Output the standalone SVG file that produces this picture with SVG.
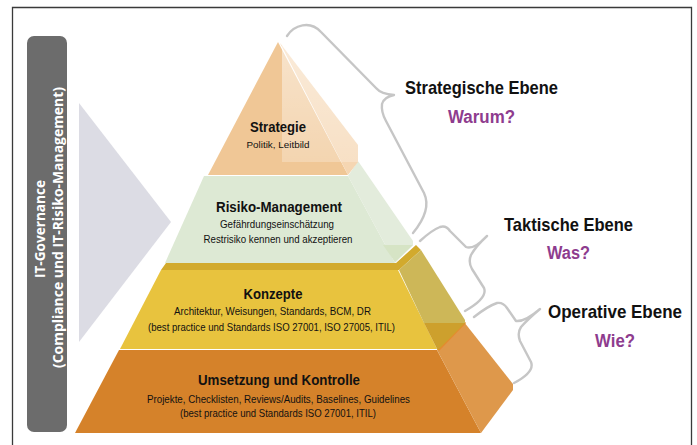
<svg xmlns="http://www.w3.org/2000/svg" width="697" height="445" viewBox="0 0 697 445">
  <defs>
    <linearGradient id="fade" x1="0" y1="0" x2="0" y2="1">
      <stop offset="0" stop-color="#ffffff" stop-opacity="0.5"/>
      <stop offset="1" stop-color="#ffffff" stop-opacity="0.25"/>
    </linearGradient>
  </defs>
  <style>
    .t { font-family: "Liberation Sans", Arial, sans-serif; text-anchor: middle; fill: #111; }
    .b { font-weight: bold; }
    .head { font-size: 15px; }
    .sub { font-size: 10.5px; }
    .level { font-family: "Liberation Sans", Arial, sans-serif; font-weight: bold; font-size: 19px; text-anchor: middle; fill: #111; }
    .ask { font-family: "Liberation Sans", Arial, sans-serif; font-weight: bold; font-size: 18px; text-anchor: middle; fill: #8e3c8e; }
    .brace { fill: none; stroke: #c6c6c6; stroke-width: 2.4; stroke-linecap: round; stroke-linejoin: round; }
    .gov { font-family: "Open Sans", "Liberation Sans", sans-serif; font-weight: bold; font-size: 14px; text-anchor: middle; fill: #ffffff; }
  </style>

  <rect width="697" height="445" fill="#ffffff"/>
  <!-- page frame (open at the bottom) -->
  <path d="M12.5,450 V7.5 H691.5 V450" fill="none" stroke="#3a3a3a" stroke-width="1.3"/>

  <!-- governance side bar -->
  <g id="governance-bar">
    <rect x="27" y="36" width="40" height="396" rx="7" fill="#6c6c6c"/>
    <text class="gov" transform="translate(45,229) rotate(-90)" textLength="98" lengthAdjust="spacingAndGlyphs">IT-Governance</text>
    <text class="gov" transform="translate(63,227.5) rotate(-90)" textLength="281" lengthAdjust="spacingAndGlyphs">(Compliance und IT-Risiko-Management)</text>
  </g>

  <!-- pointer wedge -->
  <g id="governance-wedge">
    <polygon points="79,103 171,222 79,342" fill="#dcdce4"/>
  </g>

  <!-- bottom layer -->
  <g id="layer-umsetzung">
    <polygon points="119,350 437,350 481,433 75,433" fill="#d5822a"/>
    <polygon points="437,350 464,322 513,384 513,390 481,433" fill="#de984b"/>
    <line x1="438" y1="350" x2="465" y2="322" stroke="#e48b2f" stroke-width="3"/>
    <text class="t b head" x="279" y="385" textLength="162" lengthAdjust="spacingAndGlyphs">Umsetzung und Kontrolle</text>
    <text class="t sub" x="278.5" y="403" textLength="263" lengthAdjust="spacingAndGlyphs">Projekte, Checklisten, Reviews/Audits, Baselines, Guidelines</text>
    <text class="t sub" x="278" y="417" textLength="196" lengthAdjust="spacingAndGlyphs">(best practice und Standards ISO 27001, ITIL)</text>
  </g>

  <!-- third layer -->
  <g id="layer-konzepte">
    <polygon points="161,270 398,270 437,349 120,349" fill="#e8c33e"/>
    <polygon points="166,263 396,263 416,245 421,250 399,270 161,270" fill="#d2aa2d"/>
    <polygon points="399,270 421,250 465,320 465,323 424,323" fill="#cdb758"/>
    <polygon points="424,323 465,323 438,350 437,349" fill="#cda02d"/>
    <text class="t b" x="273" y="299" font-size="14.5" textLength="59" lengthAdjust="spacingAndGlyphs">Konzepte</text>
    <text class="t sub" x="272.5" y="315" textLength="197" lengthAdjust="spacingAndGlyphs">Architektur, Weisungen, Standards, BCM, DR</text>
    <text class="t sub" x="271.5" y="331" textLength="247" lengthAdjust="spacingAndGlyphs">(best practice und Standards ISO 27001, ISO 27005, ITIL)</text>
  </g>

  <!-- second layer -->
  <g id="layer-risiko">
    <polygon points="204,176 348,176 395,263 165,263" fill="#dde9d4"/>
    <polygon points="348,176 358,161 413,241 413,245 395,263" fill="#e3ecdc"/>
    <polygon points="383,245 413,245 395,262" fill="#d6e4c5"/>
    <text class="t b head" x="279" y="212" textLength="126" lengthAdjust="spacingAndGlyphs">Risiko-Management</text>
    <text class="t sub" x="277" y="228" textLength="114" lengthAdjust="spacingAndGlyphs">Gefährdungseinschätzung</text>
    <text class="t sub" x="278" y="243" textLength="149" lengthAdjust="spacingAndGlyphs">Restrisiko kennen und akzeptieren</text>
  </g>

  <!-- top layer -->
  <g id="layer-strategie">
    <polygon points="278,42 208,175 348,175" fill="#f0c796"/>
    <polygon points="280,43 358,145 358,162 348,175" fill="#f5d6b2"/>
    <rect x="282" y="46" width="77" height="116" fill="url(#fade)"/>
    <text class="t b" x="278" y="132" font-size="14" textLength="56" lengthAdjust="spacingAndGlyphs">Strategie</text>
    <text class="t" x="278" y="148" font-size="9.5" textLength="63" lengthAdjust="spacingAndGlyphs">Politik, Leitbild</text>
  </g>

  <!-- braces linking the pyramid to its levels -->
  <g id="braces">
    <path class="brace" d="M287,36 C294,25 310,20 321,32 L376,88 Q381,94 394,95 Q384,97 382,104 Q381,112 386,121 L424,193 Q432,210 413,233"/>
    <path class="brace" d="M420,241 Q432,230 440,227 Q446,225 450,231 L466,247 Q474,250 487,236 Q476,246 471,255 Q468,262 472,269 L484,288 Q488,298 465,311"/>
    <path class="brace" d="M474,317 Q488,306 497,303 Q503,302 507,308 L516,321 Q525,322 540,309 Q528,319 521,327 Q517,333 520,341 L531,362 Q535,372 514,383"/>
  </g>

  <!-- level labels -->
  <g id="level-strategisch">
    <text class="level" x="481.5" y="94" textLength="153" lengthAdjust="spacingAndGlyphs">Strategische Ebene</text>
    <text class="ask" x="481.5" y="123" textLength="67" lengthAdjust="spacingAndGlyphs">Warum?</text>
  </g>
  <g id="level-taktisch">
    <text class="level" x="568.5" y="231" textLength="129" lengthAdjust="spacingAndGlyphs">Taktische Ebene</text>
    <text class="ask" x="568.5" y="259" textLength="43" lengthAdjust="spacingAndGlyphs">Was?</text>
  </g>
  <g id="level-operativ">
    <text class="level" x="615" y="318" textLength="134" lengthAdjust="spacingAndGlyphs">Operative Ebene</text>
    <text class="ask" x="615" y="347" textLength="40" lengthAdjust="spacingAndGlyphs">Wie?</text>
  </g>
</svg>
